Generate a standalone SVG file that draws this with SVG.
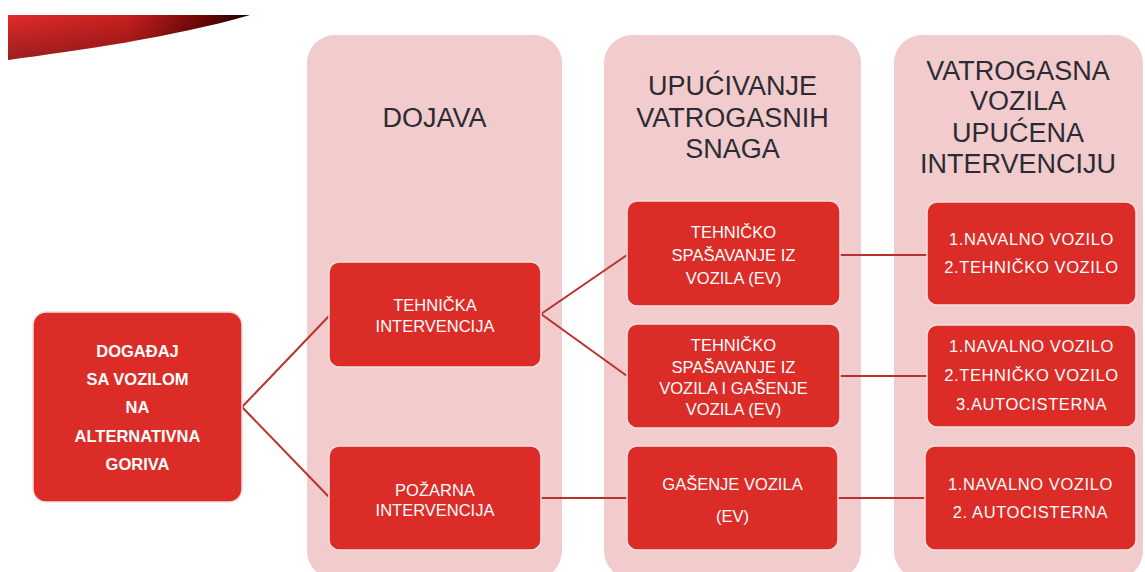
<svg xmlns="http://www.w3.org/2000/svg" width="1145" height="572" viewBox="0 0 1145 572">
<defs>
<linearGradient id="sw" x1="0" y1="0" x2="1" y2="0">
<stop offset="0" stop-color="#e02b2b"/>
<stop offset="0.5" stop-color="#c81f1f"/>
<stop offset="0.8" stop-color="#6e0606"/>
<stop offset="1" stop-color="#1a0000"/>
</linearGradient>
<linearGradient id="swv" x1="0" y1="0" x2="0" y2="1">
<stop offset="0" stop-color="#000000" stop-opacity="0"/>
<stop offset="1" stop-color="#000000" stop-opacity="0.3"/>
</linearGradient>
</defs>
<style>
.panel{fill:#f2cbcc}
.node{fill:#dc2c27;stroke:#f7dede;stroke-width:1.5}
.hdr{font-family:"Liberation Sans",Arial,sans-serif;font-size:27px;fill:#2b2b35;text-anchor:middle}
.t{font-family:"Liberation Sans",Arial,sans-serif;font-size:16.5px;fill:#ffffff;text-anchor:middle}
.tb{font-family:"Liberation Sans",Arial,sans-serif;font-size:16.5px;font-weight:bold;fill:#ffffff;text-anchor:middle}
.c{stroke:#b8312d;stroke-width:2;fill:none}
</style>
<rect width="1145" height="572" fill="#ffffff"/>
<g id="swoosh">
<path d="M8,15 L250,15 C170,38 80,50 8,60 Z" fill="url(#sw)"/>
<path d="M8,15 L250,15 C170,38 80,50 8,60 Z" fill="url(#swv)"/>
</g>
<g id="panels">
<rect class="panel" x="307" y="35" width="255" height="544" rx="28"/>
<rect class="panel" x="604" y="35" width="257" height="544" rx="28"/>
<rect class="panel" x="894" y="35" width="249" height="544" rx="28"/>
</g>
<g id="headers">
<text class="hdr" x="434.5" y="127">DOJAVA</text>
<text class="hdr" x="732.5" y="95">UPUĆIVANJE</text>
<text class="hdr" x="732.5" y="127">VATROGASNIH</text>
<text class="hdr" x="732.5" y="158">SNAGA</text>
<text class="hdr" x="1018" y="80">VATROGASNA</text>
<text class="hdr" x="1018" y="110">VOZILA</text>
<text class="hdr" x="1018" y="142">UPUĆENA</text>
<text class="hdr" x="1018" y="173">INTERVENCIJU</text>
</g>
<g id="connectors">
<line class="c" x1="242" y1="407" x2="329" y2="316"/>
<line class="c" x1="242" y1="407" x2="329" y2="497"/>
<line class="c" x1="541" y1="314" x2="627" y2="255"/>
<line class="c" x1="541" y1="314" x2="627" y2="376"/>
<line class="c" x1="840" y1="255" x2="927" y2="255"/>
<line class="c" x1="840" y1="376" x2="927" y2="376"/>
<line class="c" x1="541" y1="498" x2="627" y2="498"/>
<line class="c" x1="838" y1="498" x2="925" y2="498"/>
</g>
<g id="n-dogadjaj">
<rect class="node" x="33" y="312" width="209" height="190" rx="13"/>
<text class="tb" x="137.5" y="357">DOGAĐAJ</text>
<text class="tb" x="137.5" y="385">SA VOZILOM</text>
<text class="tb" x="137.5" y="413">NA</text>
<text class="tb" x="137.5" y="442">ALTERNATIVNA</text>
<text class="tb" x="137.5" y="470">GORIVA</text>
</g>
<g id="n-tehnicka">
<rect class="node" x="329" y="262" width="212" height="105" rx="10"/>
<text class="t" x="435" y="311">TEHNIČKA</text>
<text class="t" x="435" y="332">INTERVENCIJA</text>
</g>
<g id="n-pozarna">
<rect class="node" x="329" y="446" width="212" height="104" rx="10"/>
<text class="t" x="435" y="496">POŽARNA</text>
<text class="t" x="435" y="516">INTERVENCIJA</text>
</g>
<g id="n-spasavanje">
<rect class="node" x="627" y="201" width="213" height="105" rx="10"/>
<text class="t" x="733.5" y="238">TEHNIČKO</text>
<text class="t" x="733.5" y="261">SPAŠAVANJE IZ</text>
<text class="t" x="733.5" y="284">VOZILA (EV)</text>
</g>
<g id="n-spasavanje-gasenje">
<rect class="node" x="627" y="324" width="213" height="104" rx="10"/>
<text class="t" x="733.5" y="351">TEHNIČKO</text>
<text class="t" x="733.5" y="373">SPAŠAVANJE IZ</text>
<text class="t" x="733.5" y="394">VOZILA I GAŠENJE</text>
<text class="t" x="733.5" y="415">VOZILA (EV)</text>
</g>
<g id="n-gasenje">
<rect class="node" x="627" y="446" width="211" height="104" rx="10"/>
<text class="t" x="732.5" y="490">GAŠENJE VOZILA</text>
<text class="t" x="732.5" y="522">(EV)</text>
</g>
<g id="n-vozila1">
<rect class="node" x="927" y="202" width="209" height="103" rx="10"/>
<text class="t" x="1031.5" y="245" letter-spacing="0.6">1.NAVALNO VOZILO</text>
<text class="t" x="1031.5" y="273" letter-spacing="0.6">2.TEHNIČKO VOZILO</text>
</g>
<g id="n-vozila2">
<rect class="node" x="927" y="325" width="209" height="102" rx="10"/>
<text class="t" x="1031.5" y="352" letter-spacing="0.6">1.NAVALNO VOZILO</text>
<text class="t" x="1031.5" y="381" letter-spacing="0.6">2.TEHNIČKO VOZILO</text>
<text class="t" x="1031.5" y="410" letter-spacing="0.6">3.AUTOCISTERNA</text>
</g>
<g id="n-vozila3">
<rect class="node" x="925" y="446" width="211" height="104" rx="10"/>
<text class="t" x="1030.5" y="490" letter-spacing="0.6">1.NAVALNO VOZILO</text>
<text class="t" x="1030.5" y="518" letter-spacing="0.6">2. AUTOCISTERNA</text>
</g>
</svg>
